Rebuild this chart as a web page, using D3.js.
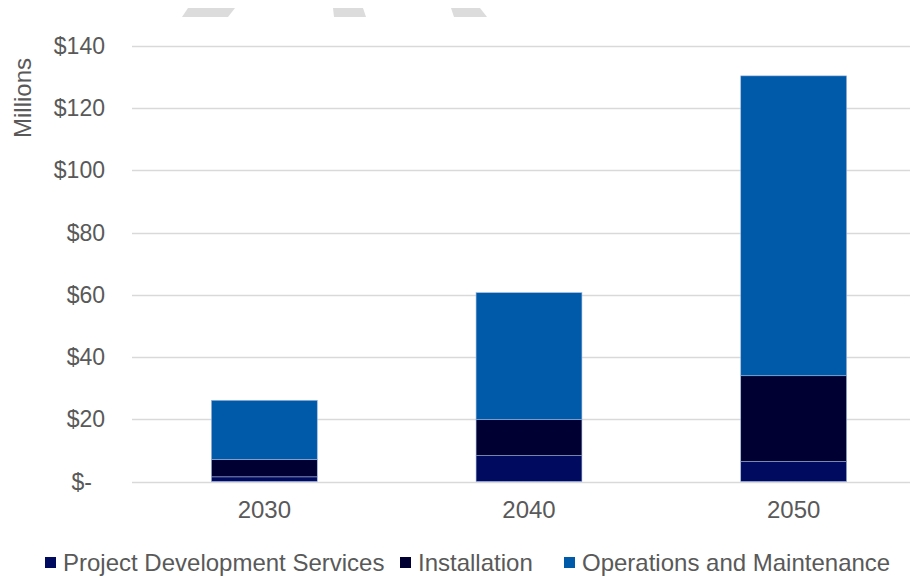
<!DOCTYPE html>
<html><head><meta charset="utf-8">
<script src="https://cdn.jsdelivr.net/npm/d3@7"></script>
<style>body{margin:0;background:#fff}svg{display:block}text{font-family:"Liberation Sans",Arial,sans-serif;fill:#595959}</style>
</head><body><svg id="c" width="914" height="576"></svg>
<script>
const categories = ["2030", "2040", "2050"];
const seriesNames = ["Project Development Services", "Installation", "Operations and Maintenance"];
const projectDevelopment = [1.5, 8.3, 6.4];
const installation = [5.6, 11.6, 27.6];
const operations = [19.0, 40.8, 96.4];
const yTicks = [0, 20, 40, 60, 80, 100, 120, 140];
const colors = ["#000A5E", "#000033", "#005AAA"];

const svg = d3.select("#c");
// faint decorative shapes at top
const deco = [[[188,8],[235,8],[228,17],[182,17]],[[333,8],[363,8],[366,17],[334,17]],[[451,8],[480,8],[487,17],[454,17]]];
svg.selectAll("polygon.deco").data(deco).join("polygon").attr("points", d => d.map(p => p.join(",")).join(" ")).attr("fill", "#dcdcdc");

const x = d3.scaleBand().domain(categories).range([132, 926]).paddingInner(0.6).paddingOuter(0.3);
const y = d3.scaleLinear().domain([0, 140]).range([481.5, 46]);

// gridlines
svg.append("g").selectAll("line").data(yTicks).join("line")
  .attr("x1", 132).attr("x2", 910)
  .attr("y1", d => Math.round(y(d)) + 0.5).attr("y2", d => Math.round(y(d)) + 0.5)
  .attr("stroke", "#d9d9d9").attr("stroke-width", 1.3);

// y labels
svg.append("g").selectAll("text").data(yTicks).join("text")
  .attr("x", d => d === 0 ? 92 : 105).attr("y", d => y(d)).attr("dy", "0.35em")
  .attr("text-anchor", "end").attr("font-size", 23)
  .text(d => d === 0 ? "$-" : "$" + d);

svg.append("text").attr("transform", "translate(31,98) rotate(-90)")
  .attr("text-anchor", "middle").attr("font-size", 24).text("Millions");

// stacked bars
const rows = categories.map((c, i) => ({cat: c, a: projectDevelopment[i], b: installation[i], c2: operations[i]}));
const stack = d3.stack().keys(["a", "b", "c2"])(rows);
svg.append("g").selectAll("g").data(stack).join("g").attr("fill", (d, i) => colors[i])
  .selectAll("rect").data(d => d).join("rect")
  .attr("x", d => x(d.data.cat)).attr("width", x.bandwidth())
  .attr("y", d => y(d[1])).attr("height", d => y(d[0]) - y(d[1]))
  .attr("stroke", "#9fb6dc").attr("stroke-width", 0.6);

// x labels
svg.append("g").selectAll("text").data(categories).join("text")
  .attr("x", d => x(d) + x.bandwidth() / 2).attr("y", 510).attr("dy", "0.35em")
  .attr("text-anchor", "middle").attr("font-size", 24).text(d => d);

// legend
const legX = [45, 400, 564];
const lg = svg.append("g").selectAll("g").data(seriesNames).join("g")
  .attr("transform", (d, i) => `translate(${legX[i]},563)`);
lg.append("rect").attr("x", 0).attr("y", -6).attr("width", 11).attr("height", 11).attr("fill", (d, i) => colors[i]);
lg.append("text").attr("x", 18).attr("dy", "0.35em").attr("font-size", 24).text(d => d);
</script></body></html>
